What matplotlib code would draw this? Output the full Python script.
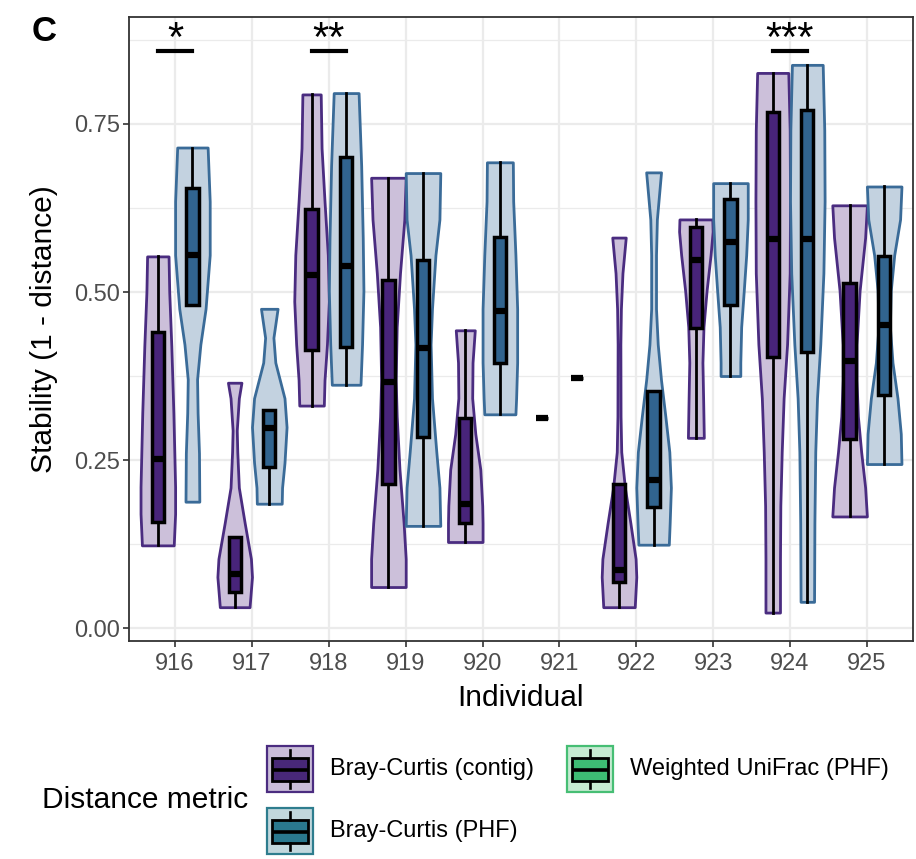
import matplotlib
matplotlib.use('Agg')
import matplotlib.pyplot as plt
from matplotlib.patches import Rectangle
from matplotlib import rcParams

rcParams['font.family'] = ['Liberation Sans', 'DejaVu Sans']
rcParams['axes.unicode_minus'] = False

individuals = ['916', '917', '918', '919', '920', '921', '922', '923', '924', '925']
metrics = ['Bray-Curtis (contig)', 'Bray-Curtis (PHF)', 'Weighted UniFrac (PHF)']

# box summaries per individual (lower whisker, q1, median, q3, upper whisker)
contig_lo = [0.123, 0.031, 0.331, 0.061, 0.128, 0.313, 0.031, 0.283, 0.023, 0.166]
contig_q1 = [0.158, 0.053, 0.414, 0.214, 0.156, 0.313, 0.068, 0.446, 0.403, 0.282]
contig_med = [0.252, 0.081, 0.526, 0.366, 0.184, 0.313, 0.087, 0.547, 0.579, 0.398]
contig_q3 = [0.440, 0.135, 0.624, 0.518, 0.313, 0.313, 0.214, 0.596, 0.768, 0.513]
contig_hi = [0.553, 0.135, 0.794, 0.670, 0.443, 0.313, 0.214, 0.608, 0.826, 0.629]

phf_lo = [0.481, 0.185, 0.362, 0.152, 0.318, 0.372, 0.124, 0.375, 0.039, 0.244]
phf_q1 = [0.481, 0.239, 0.418, 0.284, 0.394, 0.372, 0.180, 0.480, 0.411, 0.347]
phf_med = [0.555, 0.297, 0.539, 0.417, 0.472, 0.372, 0.220, 0.574, 0.579, 0.451]
phf_q3 = [0.655, 0.325, 0.701, 0.547, 0.582, 0.372, 0.353, 0.639, 0.771, 0.553]
phf_hi = [0.715, 0.325, 0.796, 0.677, 0.693, 0.372, 0.353, 0.662, 0.838, 0.657]

# violin outlines: stability levels and relative half-width at each level
contig_violin_y = [
    [0.123, 0.17, 0.21, 0.32, 0.42, 0.50, 0.553],
    [0.031, 0.076, 0.103, 0.156, 0.209, 0.262, 0.294, 0.342, 0.365],
    [0.331, 0.369, 0.422, 0.486, 0.555, 0.635, 0.714, 0.794],
    [0.061, 0.103, 0.156, 0.236, 0.315, 0.369, 0.448, 0.528, 0.608, 0.670],
    [0.128, 0.156, 0.182, 0.236, 0.289, 0.342, 0.395, 0.443],
    None,
    [0.031, 0.076, 0.103, 0.156, 0.209, 0.262, 0.315, 0.422, 0.475, 0.528, 0.581],
    [0.283, 0.342, 0.395, 0.448, 0.502, 0.555, 0.59, 0.608],
    [0.023, 0.103, 0.182, 0.262, 0.342, 0.422, 0.528, 0.635, 0.741, 0.826],
    [0.166, 0.209, 0.262, 0.315, 0.369, 0.422, 0.502, 0.581, 0.629],
]
contig_violin_w = [
    [0.92, 1.0, 1.0, 0.90, 0.78, 0.66, 0.62],
    [0.86, 1.0, 0.94, 0.58, 0.24, 0.15, 0.12, 0.24, 0.39],
    [0.71, 0.75, 0.89, 1.0, 0.94, 0.75, 0.58, 0.53],
    [1.0, 1.0, 0.88, 0.64, 0.48, 0.42, 0.48, 0.67, 0.92, 1.0],
    [1.0, 1.0, 0.98, 0.87, 0.58, 0.40, 0.42, 0.55],
    None,
    [0.91, 1.0, 0.96, 0.66, 0.34, 0.13, 0.09, 0.08, 0.11, 0.20, 0.39],
    [0.46, 0.42, 0.38, 0.44, 0.62, 0.85, 0.97, 0.95],
    [0.42, 0.42, 0.44, 0.52, 0.63, 0.83, 0.98, 1.0, 0.98, 0.90],
    [1.0, 0.90, 0.67, 0.48, 0.40, 0.40, 0.58, 0.90, 1.0],
]
phf_violin_y = [
    [0.188, 0.26, 0.32, 0.37, 0.422, 0.475, 0.555, 0.635, 0.715],
    [0.185, 0.209, 0.246, 0.299, 0.342, 0.395, 0.432, 0.475],
    [0.362, 0.422, 0.502, 0.581, 0.688, 0.796],
    [0.152, 0.209, 0.262, 0.342, 0.422, 0.475, 0.555, 0.608, 0.677],
    [0.318, 0.342, 0.395, 0.475, 0.555, 0.635, 0.693],
    None,
    [0.124, 0.156, 0.209, 0.262, 0.315, 0.369, 0.422, 0.475, 0.555, 0.608, 0.678],
    [0.375, 0.395, 0.448, 0.502, 0.555, 0.608, 0.662],
    [0.039, 0.156, 0.262, 0.342, 0.422, 0.528, 0.635, 0.741, 0.838],
    [0.244, 0.289, 0.342, 0.395, 0.448, 0.502, 0.555, 0.608, 0.657],
]
phf_violin_w = [
    [0.40, 0.38, 0.30, 0.27, 0.46, 0.76, 1.0, 1.0, 0.88],
    [0.72, 0.74, 0.88, 1.0, 0.88, 0.35, 0.24, 0.48],
    [0.83, 0.92, 1.0, 0.96, 0.87, 0.72],
    [1.0, 0.95, 0.77, 0.52, 0.44, 0.52, 0.72, 0.95, 1.0],
    [0.90, 0.94, 1.0, 1.0, 0.90, 0.77, 0.75],
    None,
    [0.88, 0.93, 1.0, 0.91, 0.68, 0.43, 0.24, 0.14, 0.14, 0.19, 0.43],
    [0.57, 0.57, 0.62, 0.77, 0.91, 1.0, 1.0],
    [0.39, 0.41, 0.46, 0.56, 0.75, 0.93, 1.0, 0.98, 0.89],
    [1.0, 0.96, 0.77, 0.48, 0.33, 0.38, 0.58, 0.92, 1.0],
]

# pairwise tests shown above the panel
sig_individuals = ['916', '918', '924']
sig_labels = ['*', '**', '***']
sig_height = 0.859

y_ticks = [0.0, 0.25, 0.5, 0.75]
y_ticklabels = ['0.00', '0.25', '0.50', '0.75']

# colours
violin_fill = {'contig': '#CCC0DA', 'phf': '#C3D2E0'}
violin_edge = {'contig': '#4A2C80', 'phf': '#3A6B98'}
box_fill = {'contig': '#48247A', 'phf': '#31648F'}
key_bg = ['#C9BDD8', '#C2D7DD', '#C6EAD2']
key_edge = ['#4B2C80', '#2E7D8E', '#46BE74']
key_box = ['#482878', '#2A788E', '#3DBC74']

dodge = 0.225
violin_half = 0.225
box_width = 0.16

fig = plt.figure(figsize=(9.16, 8.59), dpi=100)
ax = fig.add_axes([129 / 916, 1 - 641 / 859, 784 / 916, 624 / 859])

groups = [
    ('contig', -dodge, contig_violin_y, contig_violin_w,
     contig_lo, contig_q1, contig_med, contig_q3, contig_hi),
    ('phf', dodge, phf_violin_y, phf_violin_w,
     phf_lo, phf_q1, phf_med, phf_q3, phf_hi),
]

for key, offset, vy, vw, lo, q1, med, q3, hi in groups:
    # violins
    for i in range(len(individuals)):
        if vy[i] is None:
            continue
        c = i + offset
        left = [c - w * violin_half for w in vw[i]]
        right = [c + w * violin_half for w in vw[i]]
        ax.fill_betweenx(vy[i], left, right, facecolor=violin_fill[key],
                         edgecolor=violin_edge[key], linewidth=2.0, zorder=2)

for key, offset, vy, vw, lo, q1, med, q3, hi in groups:
    stats = []
    for i in range(len(individuals)):
        stats.append({'whislo': lo[i], 'q1': q1[i], 'med': med[i],
                      'q3': q3[i], 'whishi': hi[i], 'fliers': []})
    pos = [i + offset for i in range(len(individuals))]
    ax.bxp(stats, positions=pos, widths=box_width, patch_artist=True,
           showcaps=False, showfliers=False, manage_ticks=False,
           boxprops=dict(facecolor=box_fill[key], edgecolor='black', linewidth=2.5),
           medianprops=dict(color='black', linewidth=4.5, solid_capstyle='butt'),
           whiskerprops=dict(color='black', linewidth=2.0),
           zorder=3)

# significance bars
for name, lab in zip(sig_individuals, sig_labels):
    i = individuals.index(name)
    ax.plot([i - dodge, i + dodge], [sig_height, sig_height], color='black',
            linewidth=3, solid_capstyle='projecting', zorder=4)
    ax.text(i, sig_height - 0.001, lab, ha='center', va='baseline',
            fontsize=30, color='black', zorder=4)

ax.set_xlim(-0.6, len(individuals) - 0.4)
ax.set_ylim(-0.0193, 0.9092)
ax.set_xticks(range(len(individuals)))
ax.set_xticklabels(individuals)
ax.set_yticks(y_ticks)
ax.set_yticklabels(y_ticklabels)
ax.set_yticks([0.125, 0.375, 0.625, 0.875], minor=True)

ax.grid(True, which='major', color='#EBEBEB', linewidth=1.6, zorder=0)
ax.grid(True, which='minor', axis='y', color='#EBEBEB', linewidth=0.9, zorder=0)
ax.set_axisbelow(True)
ax.tick_params(axis='both', which='major', length=4.3, width=1.2, color='#333333',
               labelsize=17, labelcolor='#4D4D4D', pad=2)
ax.tick_params(axis='x', which='major', pad=4)
ax.tick_params(axis='y', which='minor', length=0)
for sp in ax.spines.values():
    sp.set_color('#333333')
    sp.set_linewidth(1.3)

ax.set_xlabel('Individual', fontsize=21.5, labelpad=7)
ax.set_ylabel('Stability (1 - distance)', fontsize=21.5, labelpad=12)

fig.text(32 / 916, 1 - 15 / 859, 'C', fontsize=25, fontweight='bold', va='top', ha='left')

# legend drawn in pixel space underneath the panel
leg = fig.add_axes([0, 0, 1, 1], zorder=5)
leg.set_xlim(0, 916)
leg.set_ylim(859, 0)
leg.axis('off')
leg.patch.set_alpha(0)

key_x = [267, 267, 567]
key_y = [746, 808, 746]
key_size = 46
for k in range(len(metrics)):
    x0, y0 = key_x[k], key_y[k]
    leg.add_patch(Rectangle((x0, y0), key_size, key_size, facecolor=key_bg[k],
                            edgecolor=key_edge[k], linewidth=1.6))
    cx = x0 + key_size / 2
    leg.plot([cx, cx], [y0 + 4, y0 + 12], color='black', linewidth=1.9)
    leg.plot([cx, cx], [y0 + 35, y0 + 42], color='black', linewidth=1.9)
    leg.add_patch(Rectangle((x0 + 5, y0 + 12), key_size - 10, 23, facecolor=key_box[k],
                            edgecolor='black', linewidth=2.0))
    leg.plot([x0 + 5, x0 + key_size - 5], [y0 + 23.5, y0 + 23.5], color='black',
             linewidth=2.6, solid_capstyle='butt')
    leg.text(x0 + 63, y0 + 23, metrics[k], fontsize=17, va='center', ha='left')

leg.text(42, 800, 'Distance metric', fontsize=21.5, va='center', ha='left')

fig.savefig('out.png', dpi=100)
